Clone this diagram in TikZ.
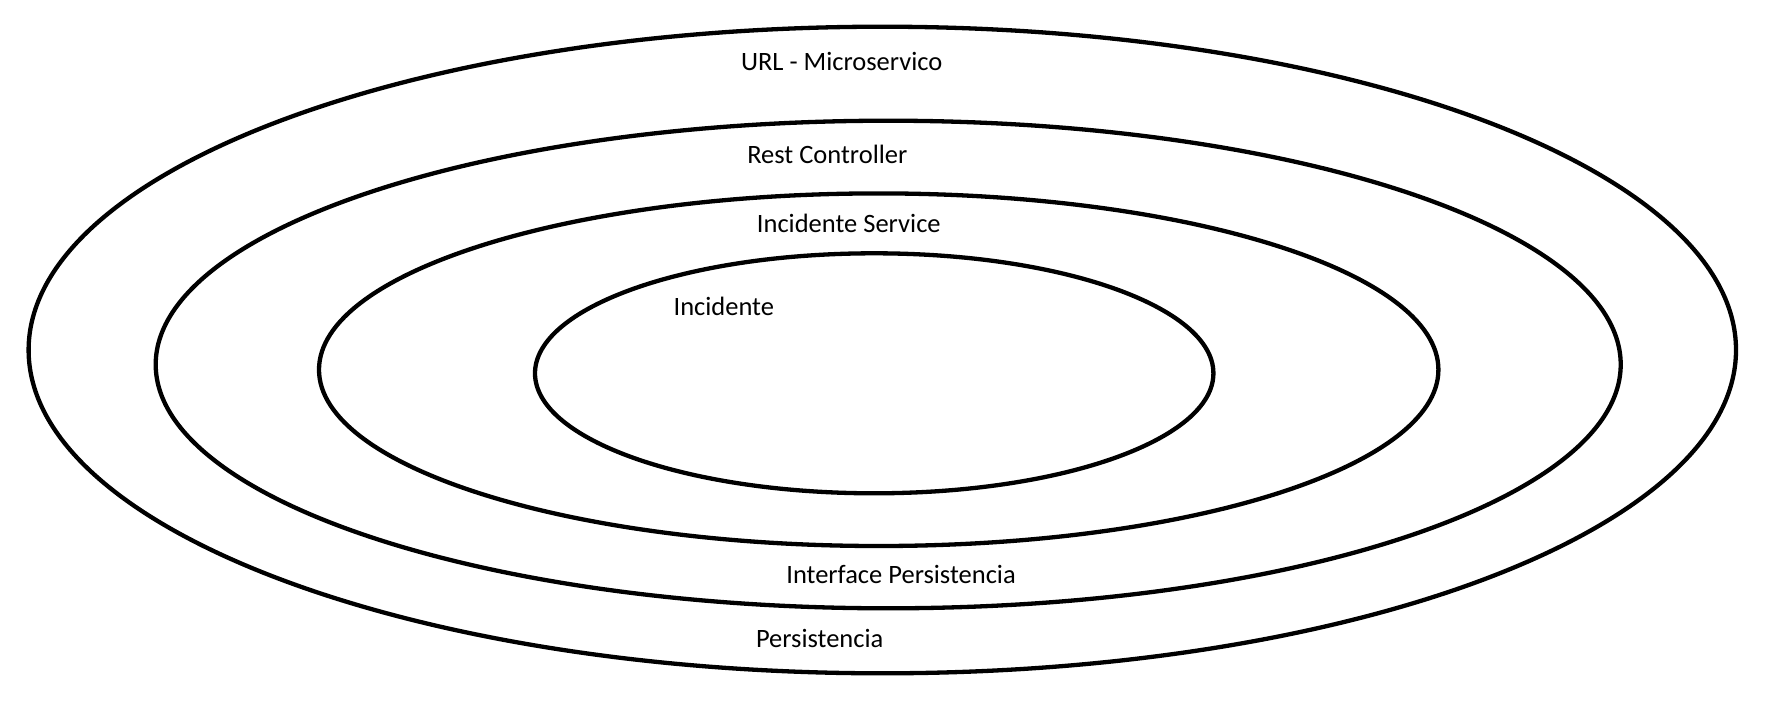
\documentclass[tikz,border=0pt]{standalone}
\usepackage{fontspec}
\setmainfont{Carlito}
\begin{document}
\begin{tikzpicture}[x=1pt,y=-1pt,
  ring/.style={draw=black,line width=4.3pt},
  lbl/.style={anchor=base,inner sep=0pt,font=\fontsize{26.5}{30}\selectfont}]
\useasboundingbox (0,0) rectangle (1779,705);
\fill[white] (0,0) rectangle (1779,705);
\draw[ring] (882.3,350) ellipse [x radius=853.7, y radius=323.3];
\draw[ring] (888.2,364.5) ellipse [x radius=732.5, y radius=243.8];
\draw[ring] (878.7,369.7) ellipse [x radius=559.7, y radius=176.3];
\draw[ring] (874.2,373.3) ellipse [x radius=339.2, y radius=120];
\node[lbl] (url) at (841.7,70) {URL - Microservico};
\node[lbl] (rest) at (827.3,163.3) {Rest Controller};
\node[lbl] (serv) at (848.8,232.7) {Incidente Service};
\node[lbl] (inc) at (723.8,315) {Incidente};
\node[lbl] (ipers) at (901,583.3) {Interface Persistencia};
\node[lbl] (pers) at (819.7,647.3) {Persistencia};
\end{tikzpicture}
\end{document}
